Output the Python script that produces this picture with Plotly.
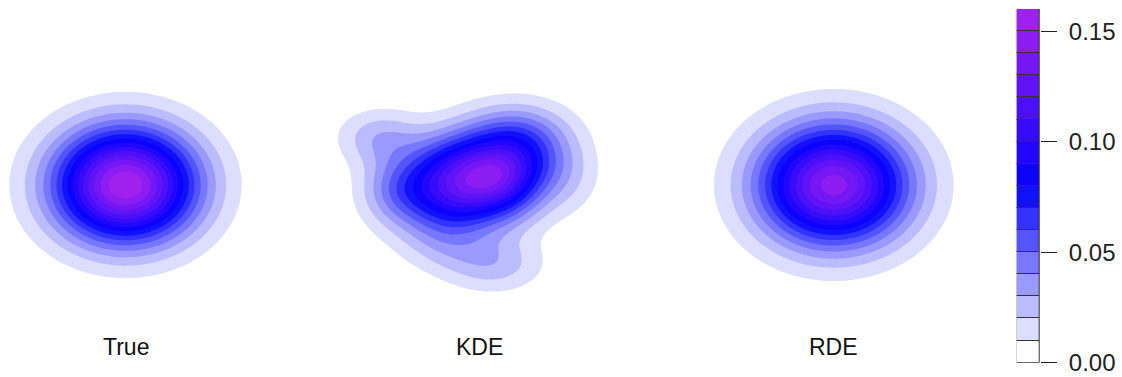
import numpy as np
import plotly.graph_objects as go

# ---------------- data ----------------
panel_labels = ["True", "KDE", "RDE"]

# contour levels (density) and the colour of each band
levels = [0.00, 0.01, 0.02, 0.03, 0.04, 0.05, 0.06, 0.07, 0.08,
          0.09, 0.10, 0.11, 0.12, 0.13, 0.14, 0.15, 0.16]
band_colors = ["#FFFFFF", "#DDDDFF", "#BBBBFF", "#9999FF", "#7777FF", "#5555FF",
               "#3333FF", "#1111FF", "#0B02FE", "#2006FC", "#350BFA", "#4B0FF8",
               "#6013F6", "#7517F4", "#8B1CF2", "#A020F0"]
cbar_tickvals = [0.00, 0.05, 0.10, 0.15]
cbar_ticktext = ["0.00", "0.05", "0.10", "0.15"]

# True density: standard bivariate normal
true_mean = [0.0, 0.0]
true_sd = [1.0, 1.0]

# RDE estimate: bivariate normal, slightly wider
rde_mean = [0.0, 0.0]
rde_sd = [1.05, 1.05]

# KDE estimate: mixture of gaussian bumps (centre, spread, correlation, weight)
kde_mx = [-0.05, 0.40, -0.70, 0.90, 0.60, -0.50, -2.00, -1.60, 0.30, -0.70, 1.80, 0.90]
kde_my = [0.25, 0.15, 0.50, 0.60, -0.50, -0.50, 1.20, -0.10, -2.00, -1.50, 0.20, 1.30]
kde_sx = [0.95, 0.55, 0.55, 0.55, 0.55, 0.55, 0.60, 0.55, 0.70, 0.60, 0.50, 0.65]
kde_sy = [0.90, 0.50, 0.55, 0.55, 0.55, 0.55, 0.50, 0.60, 0.50, 0.50, 0.70, 0.50]
kde_rho = [0.30, 0.0, 0.0, 0.0, 0.0, 0.0, 0.0, 0.0, 0.0, 0.0, 0.0, 0.0]
kde_w = [0.55, 0.05, 0.03, 0.03, 0.03, 0.03, 0.05, 0.065, 0.055, 0.025, 0.03, 0.035]

# ---------------- grids ----------------
gx = np.linspace(-3.2, 3.2, 257)
gy = np.linspace(-3.2, 3.2, 257)
X, Y = np.meshgrid(gx, gy)


def gauss2d(mx, my, sx, sy, rho=0.0):
    u = (X - mx) / sx
    v = (Y - my) / sy
    q = (u * u - 2 * rho * u * v + v * v) / (1 - rho * rho)
    return np.exp(-0.5 * q) / (2 * np.pi * sx * sy * np.sqrt(1 - rho * rho))


z_true = gauss2d(true_mean[0], true_mean[1], true_sd[0], true_sd[1])
z_rde = gauss2d(rde_mean[0], rde_mean[1], rde_sd[0], rde_sd[1])
z_kde = np.zeros_like(X)
for mx, my, sx, sy, r, w in zip(kde_mx, kde_my, kde_sx, kde_sy, kde_rho, kde_w):
    z_kde += w * gauss2d(mx, my, sx, sy, r)

# stepped colour scale (one flat colour per contour band)
nb = len(band_colors)
bounds = [0.0]
for i in range(nb - 1):
    lo = max((i + 0.5) / nb, (i + 1) / (nb + 1))
    hi = min((i + 1.5) / nb, (i + 2) / (nb + 1))
    bounds.append((lo + hi) / 2)
bounds.append(1.0)
cscale = []
for i, c in enumerate(band_colors):
    cscale.append([bounds[i], c])
    cscale.append([bounds[i + 1], c])

W, H = 1122, 377      # reference pixel frame
FIG_H = 390           # page height that is photographed into 377 px
fig = go.Figure()

panels = [("x", "y", z_true), ("x2", "y2", z_kde), ("x3", "y3", z_rde)]
for xa, ya, z in panels:
    fig.add_trace(go.Contour(
        x=gx, y=gy, z=z, xaxis=xa, yaxis=ya,
        contours=dict(start=levels[0], end=levels[-1], size=0.01,
                      coloring="fill", showlines=False),
        line=dict(width=0), colorscale=cscale, zmin=levels[0], zmax=levels[-1],
        showscale=False, hoverinfo="skip",
    ))

# colour key drawn as stacked bars, one per band
fig.add_trace(go.Bar(
    x=[0] * nb, y=[levels[i + 1] - levels[i] for i in range(nb)], base=levels[:-1],
    marker=dict(color=band_colors, line=dict(color="#333333", width=1)),
    xaxis="x4", yaxis="y4", width=1, showlegend=False, hoverinfo="skip",
))


def px_dom(a, b):
    return [a / W, b / W]


ydom = [(H - 303.8) / H, (H - 66.2) / H]
hidden = dict(visible=False, showgrid=False, zeroline=False, fixedrange=True)

fig.update_layout(
    width=W, height=FIG_H, autosize=False, margin=dict(l=0, r=0, t=0, b=0, pad=0),
    paper_bgcolor="white", plot_bgcolor="rgba(0,0,0,0)", showlegend=False,
    bargap=0,
    xaxis=dict(hidden, domain=px_dom(2, 249), range=[-2.5, 2.5]),
    yaxis=dict(hidden, domain=ydom, range=[-3, 3]),
    xaxis2=dict(hidden, domain=px_dom(330.8, 627.2), range=[-3, 3]),
    yaxis2=dict(hidden, domain=ydom, range=[-3, 3], anchor="x2"),
    xaxis3=dict(hidden, domain=px_dom(705.4, 962.2), range=[-2.6, 2.6]),
    yaxis3=dict(hidden, domain=ydom, range=[-3, 3], anchor="x3"),
    xaxis4=dict(hidden, domain=px_dom(1016.7, 1040), range=[-0.5, 0.5], anchor="y4"),
    yaxis4=dict(domain=[(H - 362.7) / H, (H - 9) / H], range=[levels[0], levels[-1]],
                anchor="x4", side="right", showgrid=False, zeroline=False, showline=False,
                ticks="outside", ticklen=16, tickwidth=1, tickcolor="#222222",
                tickvals=cbar_tickvals, ticktext=cbar_ticktext, ticklabelstandoff=7,
                tickfont=dict(family="Liberation Sans", size=24, color="#222222"),
                fixedrange=True),
)

label_x = [125.5, 479, 833.8]
for lab, lx in zip(panel_labels, label_x):
    fig.add_annotation(text=lab, x=lx / W, y=(H - 346.7) / H, xref="paper", yref="paper",
                       xanchor="center", yanchor="middle", showarrow=False,
                       font=dict(family="Liberation Sans", size=23, color="#111111"))

fig.write_html(
    "out.html",
    config={"displayModeBar": False, "responsive": False},
    post_script=("document.documentElement.style.margin='0';document.documentElement.style.overflow='hidden';"
                 "document.body.style.margin='0';document.body.style.padding='0';"
                 "document.body.style.overflow='hidden';"),
)
